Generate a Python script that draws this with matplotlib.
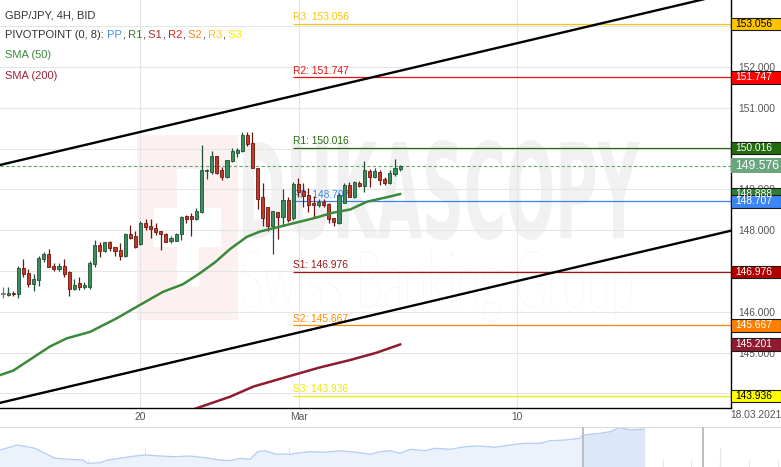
import matplotlib
matplotlib.use("Agg")
import matplotlib.pyplot as plt
import numpy as np
from matplotlib.patches import Rectangle, PathPatch
from matplotlib.textpath import TextPath
from matplotlib.font_manager import FontProperties
from matplotlib.transforms import Affine2D, IdentityTransform

plt.rcParams['font.family'] = ['Liberation Sans', 'DejaVu Sans']

# GBP/JPY 4H candles
opens = [146.44, 146.42, 146.47, 146.43, 147.07, 146.95, 146.68, 146.77, 147.29, 147.41,
         147.12, 147.04, 147.12, 146.98, 146.55, 146.70, 146.60, 146.62, 147.17, 147.64,
         147.48, 147.71, 147.58, 147.52, 147.37, 147.90, 147.86, 147.66, 148.17, 148.11,
         148.05, 147.97, 147.92, 147.74, 147.74, 147.90, 148.34, 148.34, 148.27, 148.44,
         149.45, 149.42, 149.82, 149.47, 149.30, 149.70, 149.90, 149.95, 150.33, 150.13,
         149.53, 148.81, 148.56, 148.11, 148.45, 148.33, 148.73, 148.29, 149.13, 148.97,
         148.87, 148.66, 148.62, 148.69, 148.65, 148.30, 148.19, 148.68, 149.11, 148.82,
         149.15, 149.09, 149.46, 149.30, 149.44, 149.25, 149.15, 149.38, 149.49]
highs = [146.61, 146.60, 146.52, 147.12, 147.30, 147.05, 146.93, 147.36, 147.46, 147.54,
         147.19, 147.19, 147.30, 147.00, 146.80, 146.86, 146.72, 147.25, 147.76, 147.72,
         147.72, 147.73, 147.60, 147.68, 147.94, 148.13, 147.97, 148.23, 148.27, 148.27,
         148.17, 147.98, 147.93, 147.85, 147.93, 148.34, 148.37, 148.42, 148.54, 150.09,
         149.49, 149.95, 149.83, 149.56, 149.73, 150.01, 150.01, 150.42, 150.42, 150.42,
         149.53, 149.17, 148.56, 148.47, 148.45, 149.00, 148.82, 149.18, 149.27, 149.17,
         149.03, 148.84, 148.77, 148.77, 148.67, 148.30, 148.91, 149.15, 149.19, 149.20,
         149.20, 149.70, 149.50, 149.52, 149.48, 149.31, 149.47, 149.74, 149.60]
lows = [146.34, 146.40, 146.38, 146.35, 146.85, 146.62, 146.50, 146.64, 147.23, 147.09,
        147.01, 147.01, 146.86, 146.40, 146.53, 146.53, 146.57, 146.57, 147.11, 147.35,
        147.47, 147.50, 147.37, 147.27, 147.34, 147.79, 147.56, 147.65, 148.01, 147.80,
        147.89, 147.52, 147.71, 147.68, 147.73, 147.76, 148.17, 147.87, 148.26, 148.42,
        149.25, 149.37, 149.37, 149.23, 149.27, 149.68, 149.80, 149.92, 150.07, 149.52,
        148.52, 148.11, 147.97, 147.42, 147.78, 148.11, 148.21, 148.25, 148.82, 148.56,
        148.46, 148.33, 148.56, 148.56, 148.19, 148.11, 148.15, 148.66, 148.81, 148.80,
        149.05, 148.95, 149.05, 149.27, 149.11, 149.11, 149.13, 149.33, 149.45]
closes = [146.44, 146.47, 146.43, 147.08, 146.92, 146.68, 146.80, 147.33, 147.41, 147.09,
          147.04, 147.13, 146.94, 146.55, 146.66, 146.60, 146.66, 147.19, 147.64, 147.48,
          147.71, 147.56, 147.48, 147.38, 147.91, 147.82, 147.58, 148.17, 148.07, 148.03,
          147.95, 147.90, 147.72, 147.80, 147.92, 148.32, 148.28, 148.27, 148.48, 149.48,
          149.48, 149.82, 149.41, 149.30, 149.72, 149.94, 149.97, 150.33, 150.11, 149.52,
          148.77, 148.29, 148.11, 148.47, 148.33, 148.73, 148.25, 149.13, 148.95, 148.84,
          148.62, 148.62, 148.69, 148.61, 148.27, 148.20, 148.86, 149.11, 148.82, 149.19,
          149.09, 149.48, 149.30, 149.45, 149.23, 149.17, 149.41, 149.52, 149.576]
last_price = 149.576

# SMA lines, sampled (candle index, value)
sma50_idx = [-0.6, 2.0, 9.2, 12.5, 17.1, 22.3, 26.9, 31.4, 35.4, 38.7, 41.7, 44.6,
             47.9, 50.5, 53.8, 58.3, 60.9, 64.8, 68.2, 71.5, 75.4, 78.0]
sma50_val = [144.45, 144.56, 145.15, 145.35, 145.51, 145.84, 146.17, 146.49, 146.68, 146.95,
             147.22, 147.54, 147.84, 147.97, 148.07, 148.21, 148.29, 148.43, 148.51, 148.70,
             148.81, 148.888]
sma200_idx = [36.0, 39.0, 44.6, 49.2, 56.4, 62.3, 68.2, 73.4, 78.0]
sma200_val = [143.55, 143.68, 143.92, 144.17, 144.43, 144.64, 144.82, 145.00, 145.201]

# pivot points
pivot_names = ['R3', 'R2', 'R1', 'PP', 'S1', 'S2', 'S3']
pivot_vals = [153.056, 151.747, 150.016, 148.707, 146.976, 145.667, 143.936]
pivot_start = 57.0

# channel trend lines (candle index, price)
chan_idx = [-0.6, 143.0]
chan_upper = [149.60, 153.82]
chan_lower = [143.77, 147.99]

# x axis labels
xtick_idx = [27.0, 58.2, 101.0]
xtick_lbl = ['20', 'Mar', '10']
yticks = [144, 145, 146, 147, 148, 149, 150, 151, 152, 153]
ytick_hidden = [144, 147, 150, 153]   # fully covered by the price boxes

# navigator overview series
nav_x = [0, 17.5, 35, 45, 55, 70, 82.5, 87.5, 100, 107.5, 120, 135, 145, 160, 175, 190, 205,
         220, 230, 240, 250, 257.5, 265, 275, 290, 300, 310, 325, 340, 350, 360, 370, 380, 390,
         400, 410, 425, 435, 450, 465, 480, 495, 510, 525, 540, 550, 565, 580, 582.5, 600, 610,
         620, 630, 644]
nav_h = [17, 22, 18.7, 13.7, 8.7, 7.7, 7, 3.7, 4.3, 7, 8.7, 11, 12, 11, 10.3, 11, 9.3,
         7, 6.3, 8.7, 7.7, 15.3, 16.3, 13, 12.7, 14.3, 15.3, 14.7, 16.3, 15.3, 14.3, 12.7, 15.3,
         16.3, 13.7, 17.7, 16.3, 18.7, 17.7, 20.3, 21, 19.7, 22, 23.7, 23.7, 26.3, 27, 28.7, 32,
         33.7, 35.3, 39.7, 37, 38]

W, H = 781, 467
fig = plt.figure(figsize=(W / 100, H / 100), dpi=100)
ax = fig.add_axes([0, 59 / H, 731 / W, 408 / H])
ax.set_xlim(-0.59, 143.0)
ax.set_ylim(143.644, 153.644)

# watermark (pixel coordinates, top-left origin)
def px_rect(x, y, w, h, color):
    ax.add_patch(Rectangle((x, H - y - h), w, h, fc=color, ec='none',
                           transform=IdentityTransform(), zorder=0.1))

def stretch_text(s, box, prop, color):
    tp = TextPath((0, 0), s, size=100, prop=prop)
    e = tp.get_extents()
    x0, y0, x1, y1 = box
    tr = Affine2D().translate(-e.x0, -e.y0).scale((x1 - x0) / e.width, (y1 - y0) / e.height) \
        .translate(x0, H - y1)
    ax.add_patch(PathPatch(tr.transform_path(tp), fc=color, ec='none',
                           transform=IdentityTransform(), zorder=0.1))

px_rect(137, 135, 101, 185, '#fcf0f0')
px_rect(177, 169, 22, 117, 'white')
px_rect(154, 208, 67, 39, 'white')
stretch_text('DUKASCOPY', (243, 140, 640, 240), FontProperties(family='DejaVu Sans', weight='bold'), '#f1f1f1')
stretch_text('Swiss Banking Group', (243, 250, 632, 322), FontProperties(family='Lato', weight='light'), '#f4f4f4')

# grid + axes
ax.set_yticks(yticks)
ax.set_yticklabels(['' if v in ytick_hidden else '%.3f' % v for v in yticks])
ax.set_xticks(xtick_idx)
ax.set_xticklabels(xtick_lbl)
ax.yaxis.tick_right()
ax.tick_params(axis='both', length=0, labelsize=7.4, labelcolor='#555555')
ax.tick_params(axis='y', pad=5)
ax.tick_params(axis='x', pad=3)
ax.grid(color='#e5e5e5', lw=0.8)
ax.set_axisbelow(True)
for s in ['left', 'top']:
    ax.spines[s].set_visible(False)
for s in ['right', 'bottom']:
    ax.spines[s].set_color('black')
    ax.spines[s].set_linewidth(1.0)

# pivot lines
line_col = {'R3': '#f5c50f', 'R2': '#e81010', 'R1': '#2a6a12', 'PP': '#3b82f0',
            'S1': '#a01515', 'S2': '#ff8a00', 'S3': '#ecec00'}
box_col = {'R3': '#ffc400', 'R2': '#ff0000', 'R1': '#236b0e', 'PP': '#3d85f5',
           'S1': '#b00000', 'S2': '#ff8000', 'S3': '#ffff00'}
for name, v in zip(pivot_names, pivot_vals):
    ax.hlines(v, pivot_start, 143.0, color=line_col[name], lw=0.9, zorder=2)
    ax.text(pivot_start, v + 0.04, '%s: %.3f' % (name, v), color=line_col[name],
            fontsize=7.4, va='bottom', ha='left', zorder=2)

# current price line
ax.axhline(last_price, color='#5fa777', lw=0.8, ls=(0, (3, 2)), zorder=2.5)

# channel
ax.plot(chan_idx, chan_upper, color='black', lw=1.7, zorder=4)
ax.plot(chan_idx, chan_lower, color='black', lw=1.7, zorder=4)

# candles
for i, (o, hi, lo, c) in enumerate(zip(opens, highs, lows, closes)):
    if abs(c - o) < 0.005:
        fill, edge = '#888888', '#777777'
    elif c > o:
        fill, edge = '#3d8c5c', '#1d5234'
    else:
        fill, edge = '#c23a2a', '#6e1410'
    ax.vlines(i, lo, hi, color=edge, lw=0.9, zorder=3)
    ax.bar(i, max(abs(c - o), 0.015), bottom=min(o, c), width=0.62, color=fill,
           edgecolor=edge, lw=0.6, zorder=3.1)

# moving averages
ax.plot(sma50_idx, sma50_val, color='#3b8a3b', lw=1.8, zorder=4)
ax.plot(sma200_idx, sma200_val, color='#8e1b30', lw=1.8, zorder=4)

# price boxes on the right axis
ytr = ax.get_yaxis_transform()
bw = 50 / 731

def price_box(v, bg, tc, hpx=12.3, fs=7.4):
    hh = hpx / 40.8 / 2
    ax.add_patch(Rectangle((1.0, v - hh), bw, 2 * hh, transform=ytr, fc=bg, ec='#1a1a1a',
                           lw=0.8, clip_on=False, zorder=10))
    ax.text(1.0 + 4 / 731, v, '%.3f' % v, transform=ytr, color=tc, fontsize=fs,
            va='center', ha='left', clip_on=False, zorder=11)

price_box(sma50_val[-1], '#2e7d32', 'white')
for name, v in zip(pivot_names, pivot_vals):
    price_box(v, box_col[name], 'black' if name in ('R3', 'S3') else 'white')
price_box(sma200_val[-1], '#8e1b30', 'white')
hh = 15 / 40.8 / 2
ax.add_patch(Rectangle((1.0, last_price - hh), bw, 2 * hh, transform=ytr, fc='#6aa67e',
                       ec='none', clip_on=False, zorder=10))
ax.text(1.0 + 4 / 731, last_price, '%.3f' % last_price, transform=ytr, color='white',
        fontsize=8.8, va='center', ha='left', clip_on=False, zorder=11)

fig.text(756 / W, 1 - 415 / H, '18.03.2021', fontsize=7.4, color='#555555', ha='center', va='center')

# legend text, top left
dark = '#333333'
fig.text(5 / W, 1 - 15 / H, 'GBP/JPY, 4H, BID', color=dark, fontsize=8, va='center')
t = ax.annotate('PIVOTPOINT (0, 8):', xy=(5 / W, 1 - 35 / H), xycoords='figure fraction',
                color=dark, fontsize=8, va='center', annotation_clip=False)
pieces = [(' PP', '#4a8fe8'), (',', dark), (' R1', '#3a7a2a'), (',', dark), (' S1', '#b02a2a'),
          (',', dark), (' R2', '#e02020'), (',', dark), (' S2', '#f58a1e'), (',', dark),
          (' R3', '#f5c518'), (',', dark), (' S3', '#f0f000')]
for s, c in pieces:
    t = ax.annotate(s, xy=(1, 0), xycoords=t, color=c, fontsize=8, va='bottom',
                    annotation_clip=False)
fig.text(5 / W, 1 - 55 / H, 'SMA (50)', color='#3d8b3d', fontsize=8, va='center')
fig.text(5 / W, 1 - 76 / H, 'SMA (200)', color='#9b2335', fontsize=8, va='center')

# navigator
nav = fig.add_axes([0, 0, 1, 40 / H])
nav.set_xlim(0, W)
nav.set_ylim(0, 40)
nav.axis('off')
for xv in np.arange(30, W, 28.75):
    nav.vlines(xv, 0, 8, color='#e6e6e6', lw=0.8, zorder=0)
for xv in [145, 289, 432.5, 577.5, 720]:
    nav.vlines(xv, 0, 20, color='#e6e6e6', lw=0.8, zorder=0)
nx = np.array(nav_x)
nh = np.array(nav_h)
nav.fill_between(nx, 0, nh, color='#ecf2fc', zorder=1)
sel = nx >= 582.5
nav.fill_between(nx[sel], 0, nh[sel], color='#dce7f9', zorder=1.5)
nav.plot(nx, nh, color='#b5cdf3', lw=0.9, zorder=2)
nav.axhline(39.6, color='#dddddd', lw=1, zorder=2)
for xv in [582.5, 702.5]:
    nav.axvline(xv, color='#bdbdbd', lw=1.4, zorder=3)

fig.savefig('out.png', dpi=100)
